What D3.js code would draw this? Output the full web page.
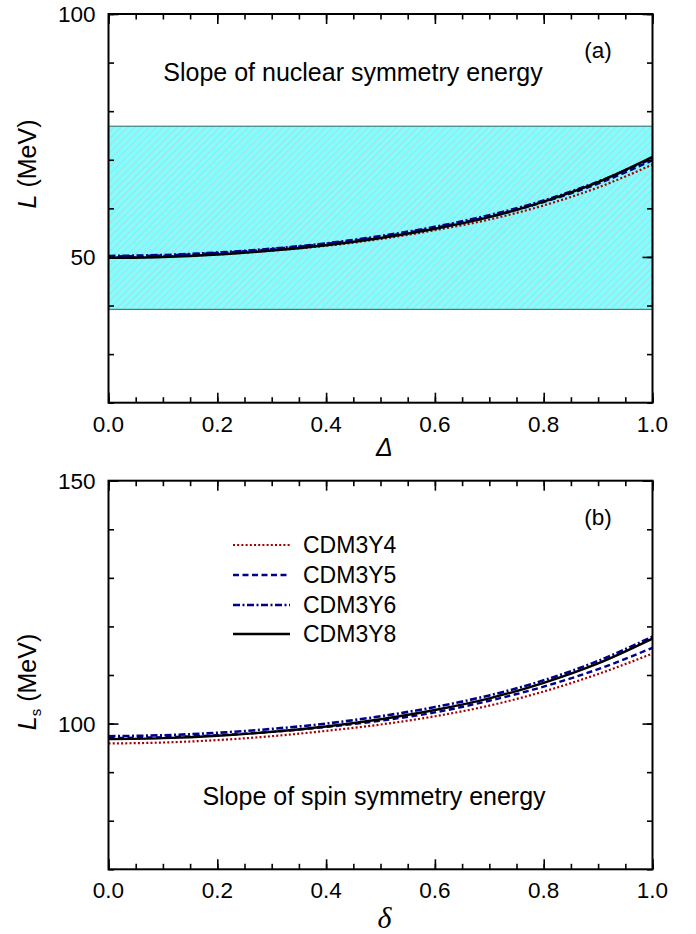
<!DOCTYPE html>
<html>
<head>
<meta charset="utf-8">
<script src="https://cdn.jsdelivr.net/npm/d3@7"></script>
<style>
    body { margin: 0; background: #fff; }
    svg { display: block; font-family: 'Liberation Sans', Arial, sans-serif; }
</style>
</head>
<body>
<svg width="696" height="934"></svg>
<script>
// x grid shared by both panels
const xValues = [0, 0.1, 0.2, 0.3, 0.4, 0.5, 0.6, 0.7, 0.8, 0.9, 1.0];
const seriesNames = ['CDM3Y4', 'CDM3Y5', 'CDM3Y6', 'CDM3Y8'];

// panel (a): slope of nuclear symmetry energy L (MeV)
const slopeL_Y4 = [49.9, 50.1, 50.5, 51.3, 52.3, 53.7, 55.5, 57.7, 60.6, 64.3, 69.0];
const slopeL_Y5 = [50.1, 50.3, 50.8, 51.6, 52.7, 54.1, 56.0, 58.3, 61.3, 65.1, 69.9];
const slopeL_Y6 = [50.2, 50.4, 50.9, 51.7, 52.8, 54.3, 56.2, 58.6, 61.6, 65.5, 70.3];
const slopeL_Y8 = [49.8, 50.0, 50.5, 51.3, 52.4, 53.9, 55.8, 58.2, 61.4, 65.4, 70.6];
const bandL = [39.2, 76.9];

// panel (b): slope of spin symmetry energy Ls (MeV)
const slopeLs_Y4 = [95.9, 96.1, 96.6, 97.4, 98.5, 99.8, 101.5, 103.7, 106.6, 110.2, 114.4];
const slopeLs_Y5 = [97.0, 97.2, 97.6, 98.3, 99.3, 100.6, 102.3, 104.7, 107.6, 111.2, 115.6];
const slopeLs_Y6 = [97.4, 97.6, 98.1, 98.9, 100.0, 101.5, 103.4, 105.8, 108.9, 112.9, 117.9];
const slopeLs_Y8 = [96.8, 97.0, 97.5, 98.3, 99.4, 100.9, 102.8, 105.2, 108.4, 112.4, 117.5];

const xTicks = [0, 0.2, 0.4, 0.6, 0.8, 1.0];
const yTicksA = [50, 100];
const yTicksB = [100, 150];

const styles = {
    CDM3Y4: { color: '#a00000', dash: '2,2.2', width: 2.2 },
    CDM3Y5: { color: '#00008b', dash: '6,3.5', width: 2.4 },
    CDM3Y6: { color: '#00008b', dash: '7,2.5,2,2.5', width: 2.6 },
    CDM3Y8: { color: '#000000', dash: null, width: 2.4 }
};

const svg = d3.select('svg');
const plotX = [108.5, 652.5];

const defs = svg.append('defs');
const hatch = defs.append('pattern')
    .attr('id', 'hatch')
    .attr('patternUnits', 'userSpaceOnUse')
    .attr('width', 5)
    .attr('height', 5)
    .attr('patternTransform', 'rotate(45)');
hatch.append('rect').attr('width', 5).attr('height', 5).attr('fill', '#80ffff');
hatch.append('line')
    .attr('x1', 0).attr('y1', 0).attr('x2', 0).attr('y2', 5)
    .attr('stroke', '#f0aabb').attr('stroke-width', 1);

drawPanel({
    top: 14, bottom: 402.7,
    yDomain: [20, 100], yTicks: yTicksA,
    series: [slopeL_Y4, slopeL_Y5, slopeL_Y6, slopeL_Y8],
    band: bandL,
    tag: '(a)',
    note: { text: 'Slope of nuclear symmetry energy', x: 353, y: 81 },
    yTitle: { main: 'L', sub: null, x: 27, y: 164 },
    xTitle: { text: '\u0394', font: "'Liberation Sans', Arial, sans-serif", size: 25, y: 456 },
    legend: false
});

drawPanel({
    top: 480.7, bottom: 869.3,
    yDomain: [70, 150], yTicks: yTicksB,
    series: [slopeLs_Y4, slopeLs_Y5, slopeLs_Y6, slopeLs_Y8],
    band: null,
    tag: '(b)',
    note: { text: 'Slope of spin symmetry energy', x: 374, y: 805 },
    yTitle: { main: 'L', sub: 's', x: 27, y: 682 },
    xTitle: { text: '\u03b4', font: "'Liberation Serif', 'Times New Roman', serif", size: 30, y: 928 },
    legend: true
});

function drawPanel(p) {
    const x = d3.scaleLinear().domain([0, 1]).range(plotX);
    const y = d3.scaleLinear().domain(p.yDomain).range([p.bottom, p.top]);
    const g = svg.append('g');

    // shaded band of the empirical range
    if (p.band) {
        g.append('rect')
            .attr('x', x(0))
            .attr('y', y(p.band[1]))
            .attr('width', x(1) - x(0))
            .attr('height', y(p.band[0]) - y(p.band[1]))
            .attr('fill', 'url(#hatch)')
            .attr('stroke', '#3c7f80')
            .attr('stroke-width', 1.2);
    }

    // curves
    const line = d3.line()
        .curve(d3.curveMonotoneX)
        .x((d, i) => x(xValues[i]))
        .y((d) => y(d));
    seriesNames.forEach(function (name, idx) {
        const s = styles[name];
        g.append('path')
            .attr('d', line(p.series[idx]))
            .attr('fill', 'none')
            .attr('stroke', s.color)
            .attr('stroke-width', s.width)
            .attr('stroke-dasharray', s.dash);
    });

    // ticks on all four sides, pointing inward
    const axes = [
        { gen: d3.axisBottom(x), tr: 'translate(0,' + p.bottom + ')', vert: false },
        { gen: d3.axisTop(x), tr: 'translate(0,' + p.top + ')', vert: false },
        { gen: d3.axisLeft(y), tr: 'translate(' + plotX[0] + ',0)', vert: true },
        { gen: d3.axisRight(y), tr: 'translate(' + plotX[1] + ',0)', vert: true }
    ];
    axes.forEach(function (a) {
        const major = a.vert ? p.yTicks : xTicks;
        const minor = a.vert ? d3.range(p.yDomain[0], p.yDomain[1] + 0.1, 10) : d3.range(0, 1.001, 0.05);
        [[minor, -5.5], [major, -10]].forEach(function (t) {
            g.append('g')
                .attr('transform', a.tr)
                .call(a.gen.tickValues(t[0]).tickSize(t[1]).tickFormat(''))
                .call((sel) => sel.select('.domain').remove())
                .selectAll('line').attr('stroke', '#000').attr('stroke-width', 1.6);
        });
    });

    // frame
    g.append('rect')
        .attr('x', plotX[0])
        .attr('y', p.top)
        .attr('width', plotX[1] - plotX[0])
        .attr('height', p.bottom - p.top)
        .attr('fill', 'none')
        .attr('stroke', '#000')
        .attr('stroke-width', 2);

    // tick labels
    g.selectAll('.xl')
        .data(xTicks)
        .enter()
        .append('text')
        .attr('x', (d) => x(d))
        .attr('y', p.bottom + 29)
        .attr('text-anchor', 'middle')
        .attr('font-size', 22.5)
        .text((d) => d.toFixed(1));
    g.selectAll('.yl')
        .data(p.yTicks)
        .enter()
        .append('text')
        .attr('x', plotX[0] - 13)
        .attr('y', (d) => y(d) + 8)
        .attr('text-anchor', 'end')
        .attr('font-size', 22.5)
        .text((d) => d);

    // panel tag and note
    g.append('text')
        .attr('x', 598)
        .attr('y', p.top + 44)
        .attr('text-anchor', 'middle')
        .attr('font-size', 22.5)
        .text(p.tag);
    g.append('text')
        .attr('x', p.note.x)
        .attr('y', p.note.y)
        .attr('text-anchor', 'middle')
        .attr('font-size', 25)
        .text(p.note.text);

    // axis titles
    const yt = g.append('text')
        .attr('transform', 'translate(' + (p.yTitle.x + 9) + ',' + p.yTitle.y + ') rotate(-90)')
        .attr('text-anchor', 'middle')
        .attr('font-size', 25);
    yt.append('tspan').attr('font-style', 'italic').text(p.yTitle.main);
    if (p.yTitle.sub) {
        yt.append('tspan').attr('font-size', 15).attr('dy', 5).text(p.yTitle.sub);
        yt.append('tspan').attr('dy', -5).text(' (MeV)');
    } else {
        yt.append('tspan').text(' (MeV)');
    }
    g.append('text')
        .attr('x', (plotX[0] + plotX[1]) / 2 + 4)
        .attr('y', p.xTitle.y)
        .attr('text-anchor', 'middle')
        .attr('font-style', 'italic')
        .attr('font-family', p.xTitle.font)
        .attr('font-size', p.xTitle.size)
        .text(p.xTitle.text);

    // legend
    if (p.legend) {
        const legendY = [545, 575, 605, 634];
        seriesNames.forEach(function (name, idx) {
            const s = styles[name];
            g.append('line')
                .attr('x1', 233).attr('x2', 290)
                .attr('y1', legendY[idx]).attr('y2', legendY[idx])
                .attr('stroke', s.color)
                .attr('stroke-width', s.width)
                .attr('stroke-dasharray', s.dash);
            g.append('text')
                .attr('x', 303)
                .attr('y', legendY[idx] + 8)
                .attr('font-size', 23)
                .text(name);
        });
    }
}
</script>
</body>
</html>
